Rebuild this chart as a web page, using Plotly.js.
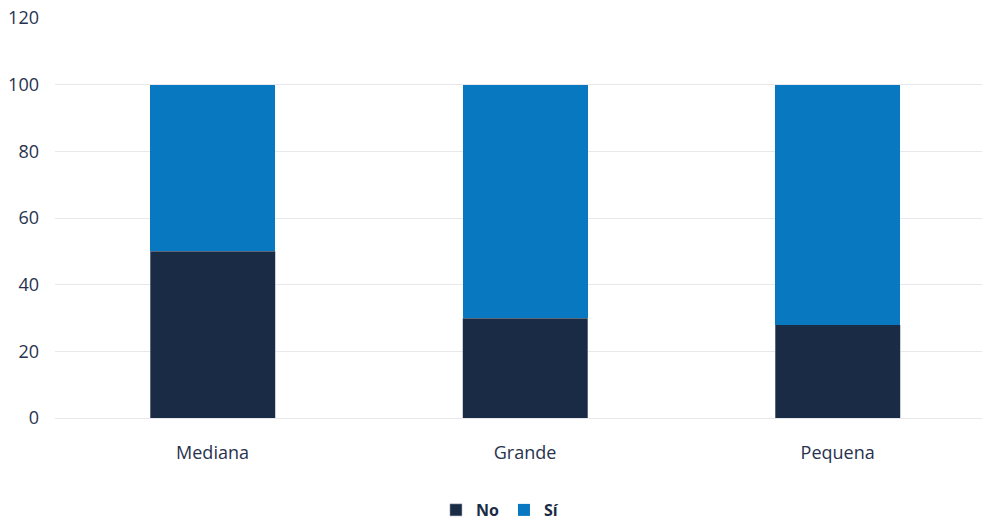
<!DOCTYPE html>
<html>
<head>
<meta charset="utf-8">
<script src="https://cdn.plot.ly/plotly-3.0.1.min.js"></script>
<style>html,body{margin:0;padding:0;background:#fff;}#chart{width:982px;height:520px;}</style>
</head>
<body>
<div id="chart"></div>
<script>
const categories = ["Mediana", "Grande", "Pequena"];
const noValues = [50, 30, 28];
const siValues = [50, 70, 72];
const seriesNames = ["No", "Sí"];
const yTicks = [0, 20, 40, 60, 80, 100, 120];

const font = "'Open Sans', sans-serif";
const traces = [
  {type: "bar", name: seriesNames[0], x: categories, y: noValues, width: 0.4,
   marker: {color: "#1a2c45", line: {color: "#9aa3b0", width: 0.5}}},
  {type: "bar", name: seriesNames[1], x: categories, y: siValues, width: 0.4,
   marker: {color: "#0878c0", line: {color: "#0878c0", width: 0}}}
];
const layout = {
  width: 982, height: 520,
  margin: {l: 55, r: 0, t: 18, b: 102, autoexpand: false},
  barmode: "stack",
  paper_bgcolor: "#fff", plot_bgcolor: "#fff",
  font: {family: font, color: "#28324e", size: 16},
  showlegend: true,
  legend: {orientation: "h", x: 0.48, xanchor: "center", y: -0.23, yanchor: "middle",
           font: {family: font, size: 16, color: "#1a2c45", weight: "bold"}, traceorder: "normal", itemwidth: 30},
  xaxis: {type: "category", range: [-0.504, 2.462], showgrid: false, zeroline: false, showline: false,
          ticks: "", tickfont: {size: 18, color: "#28324e"}, ticklabelstandoff: 22},
  yaxis: {range: [0, 120], tickvals: yTicks, showgrid: true, gridcolor: "#e8e8ec", gridwidth: 1,
          zeroline: true, zerolinecolor: "#e8e8ec", showline: false, ticks: "",
          tickfont: {size: 18, color: "#28324e"}, ticklabelstandoff: 15}
};
Plotly.newPlot("chart", traces, layout, {displayModeBar: false, staticPlot: true});
</script>
</body>
</html>
